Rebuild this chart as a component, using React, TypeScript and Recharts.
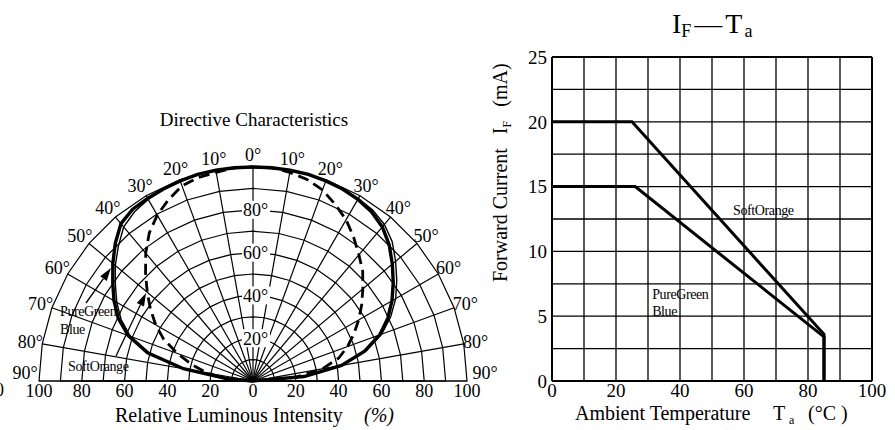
import React from 'react';
import {
  RadarChart, Radar, PolarGrid, PolarAngleAxis, PolarRadiusAxis,
  LineChart, Line, XAxis, YAxis, CartesianGrid, ReferenceLine, ReferenceDot,
} from 'recharts';

const FONT = '"Liberation Serif", "Times New Roman", serif';

// ---------- Directive characteristics (angle in degrees, negative = left side) ----------
const polarAngles = [-90, -85, -80, -75, -70, -65, -60, -55, -50, -45, -40, -35, -30, -25, -20, -15, -10, -5, 0,
  5, 10, 15, 20, 25, 30, 35, 40, 45, 50, 55, 60, 65, 70, 75, 80, 85, 90];
const pureGreen = [0, 12, 33, 51, 62, 69.5, 75, 80, 85.5, 91, 96, 98, 98.5, 99, 99.5, 100, 100, 100, 100,
  100, 100, 100, 99.5, 99, 98, 96.5, 94, 90, 85, 80, 75, 69.5, 63, 54, 42, 24, 0];
const blue = [0, 12, 33, 50, 61, 68, 73.5, 78.5, 84, 89, 94, 96.5, 98, 99, 99.5, 100, 100, 100, 100,
  100, 100, 100, 99.5, 99, 98.5, 97.5, 95.5, 92, 87, 82, 77, 71, 64, 55, 42, 24, 0];
const softOrange = [0, 13, 22, 29.5, 37.5, 46, 52.5, 58.5, 64.5, 71, 78, 84.5, 89.5, 93.5, 97, 98.5, 99, 100, 100,
  100, 99, 97.5, 95, 91, 87, 82, 77, 72.5, 67, 62, 57, 52, 47, 41.5, 33, 20, 0];
const angleTicks = [-90, -80, -70, -60, -50, -40, -30, -20, -10, 0, 10, 20, 30, 40, 50, 60, 70, 80, 90];
const fineAngleTicks = [-90, -85, -80, -75, -70, -65, -60, -55, -50, -45, -40, -35, -30, -25, -20, -15, -10, -5, 0,
  5, 10, 15, 20, 25, 30, 35, 40, 45, 50, 55, 60, 65, 70, 75, 80, 85, 90];
const radiusGridTicks = [10, 20, 30, 40, 50, 60, 70, 80, 90, 100];
const innerRadiusTicks = [10, 20];
const radiusLabelTicks = [20, 40, 60, 80];
const baselineTicks = [-100, -80, -60, -40, -20, 0, 20, 40, 60, 80, 100];

const polarData = polarAngles.map((angle, i) => ({
  angle,
  pureGreen: pureGreen[i],
  blue: blue[i],
  softOrange: softOrange[i],
}));
const baselineData = baselineTicks.map((v) => ({ v }));

// ---------- IF - Ta ----------
const tempSoftOrange = [0, 25, 85, 85];
const currentSoftOrange = [20, 20, 3.6, 0];
const tempPureGreen = [0, 26, 85, 85];
const currentPureGreen = [15, 15, 3.4, 0];
const tempTicks = [0, 10, 20, 30, 40, 50, 60, 70, 80, 90, 100];
const currentTicks = [0, 2.5, 5, 7.5, 10, 12.5, 15, 17.5, 20, 22.5, 25];

const softOrangeData = tempSoftOrange.map((t, i) => ({ t, i: currentSoftOrange[i] }));
const pureGreenData = tempPureGreen.map((t, i) => ({ t, i: currentPureGreen[i] }));

const AngleTick = (props: any) => {
  const { x, y, payload } = props;
  const isEdge = Math.abs(payload.value) === 90;
  const lift = isEdge ? -8 : 0;
  const shift = isEdge ? (payload.value > 0 ? 6 : -2) : 0;
  return (
    <text x={x + shift} y={y + lift} dy="0.36em" textAnchor="middle" fontSize={18} fontFamily={FONT} fill="#000">
      {`${Math.abs(payload.value)}°`}
    </text>
  );
};

const RadiusTick = (props: any) => {
  const { x, y, payload } = props;
  if (!radiusLabelTicks.includes(payload.value)) return <g />;
  return (
    <g>
      <rect x={x - 11} y={y - 9} width={28} height={18} fill="#fff" />
      <text x={x - 10} y={y} dy="0.36em" textAnchor="start" fontSize={18} fontFamily={FONT} fill="#000">
        {`${payload.value}°`}
      </text>
    </g>
  );
};

const Arrow = ({ x1, y1, x2, y2 }: { x1: number; y1: number; x2: number; y2: number }) => {
  const a = Math.atan2(y2 - y1, x2 - x1);
  const L = 13;
  const W = 4;
  const bx = x2 - L * Math.cos(a);
  const by = y2 - L * Math.sin(a);
  const pts = `${x2},${y2} ${bx + W * Math.sin(a)},${by - W * Math.cos(a)} ${bx - W * Math.sin(a)},${by + W * Math.cos(a)}`;
  return (
    <g>
      <line x1={x1} y1={y1} x2={bx} y2={by} stroke="#000" strokeWidth={1.3} />
      <polygon points={pts} fill="#000" />
    </g>
  );
};

export default function App() {
  return (
    <div style={{ position: 'absolute', left: 0, top: 0, width: 895, height: 430, background: '#fff', overflow: 'hidden', fontFamily: FONT }}>
      {/* inner dense radial lines */}
      <div style={{ position: 'absolute', left: 0, top: 0 }}>
        <RadarChart width={500} height={430} data={polarData} cx={253} cy={381} innerRadius={0} outerRadius={42.8}
          startAngle={180} endAngle={0} margin={{ top: 0, right: 0, bottom: 0, left: 0 }}>
          <PolarGrid gridType="polygon" stroke="#000" strokeWidth={1} />
          <PolarAngleAxis dataKey="angle" type="number" domain={[-90, 90]} ticks={fineAngleTicks} tick={false} tickLine={false} axisLine={false} />
          <PolarRadiusAxis domain={[0, 20]} ticks={innerRadiusTicks} tick={false} axisLine={false} tickLine={false} />
        </RadarChart>
      </div>
      {/* baseline intensity scale */}
      <div style={{ position: 'absolute', left: 0, top: 0 }}>
        <LineChart width={500} height={430} data={baselineData} margin={{ top: 0, right: 33, bottom: 0, left: 39 }}>
          <XAxis type="number" dataKey="v" domain={[-100, 100]} ticks={baselineTicks} interval={0} height={49}
            tickFormatter={(v: number) => String(Math.abs(v))}
            axisLine={false} tickLine={false} tickSize={2} tickMargin={1}
            tick={{ fill: '#000', fontSize: 18, fontFamily: FONT }} />
          <YAxis hide domain={[0, 100]} />
        </LineChart>
      </div>
      {/* main polar plot */}
      <div style={{ position: 'absolute', left: 0, top: 0 }}>
        <RadarChart width={500} height={430} data={polarData} cx={253} cy={381} innerRadius={0} outerRadius={214}
          startAngle={180} endAngle={0} margin={{ top: 0, right: 0, bottom: 0, left: 0 }}>
          <PolarGrid gridType="polygon" stroke="#000" strokeWidth={1.2} />
          <PolarAngleAxis dataKey="angle" type="number" domain={[-90, 90]} ticks={angleTicks} tickSize={12}
            tickLine={false} axisLine={false} tick={AngleTick} />
          <PolarRadiusAxis angle={90} domain={[0, 100]} ticks={radiusGridTicks} axisLine={false} tickLine={false} tick={RadiusTick} />
          <Radar dataKey="softOrange" stroke="#000" strokeWidth={2.8} strokeDasharray="11 6" fill="none" fillOpacity={0} dot={false} isAnimationActive={false} />
          <Radar dataKey="blue" stroke="#000" strokeWidth={1.4} fill="none" fillOpacity={0} dot={false} isAnimationActive={false} />
          <Radar dataKey="pureGreen" stroke="#000" strokeWidth={3.4} fill="none" fillOpacity={0} dot={false} isAnimationActive={false} />
        </RadarChart>
      </div>
      {/* IF - Ta */}
      <div style={{ position: 'absolute', left: 480, top: 0 }}>
        <LineChart width={415} height={430} margin={{ top: 57, right: 23, bottom: 0, left: 0 }}>
          <CartesianGrid stroke="#000" strokeWidth={1.3} />
          <XAxis type="number" dataKey="t" domain={[0, 100]} ticks={tempTicks} interval={0} height={49}
            tickFormatter={(v: number) => (v % 20 === 0 ? String(v) : '')}
            axisLine={false} tickLine={false} tickSize={2} tickMargin={1}
            tick={{ fill: '#000', fontSize: 19, fontFamily: FONT }} />
          <YAxis type="number" domain={[0, 25]} ticks={currentTicks} interval={0} width={72}
            tickFormatter={(v: number) => (v % 5 === 0 ? String(v) : '')}
            axisLine={false} tickLine={false} tickSize={3} tickMargin={2}
            tick={{ fill: '#000', fontSize: 19, fontFamily: FONT }} />
          <ReferenceLine x={0} stroke="#000" strokeWidth={2} />
          <ReferenceLine x={100} stroke="#000" strokeWidth={2} />
          <ReferenceLine y={0} stroke="#000" strokeWidth={2} />
          <ReferenceLine y={25} stroke="#000" strokeWidth={2} />
          <Line data={softOrangeData} dataKey="i" type="linear" stroke="#000" strokeWidth={3} dot={false} isAnimationActive={false} />
          <Line data={pureGreenData} dataKey="i" type="linear" stroke="#000" strokeWidth={3} dot={false} isAnimationActive={false} />
          <ReferenceDot x={56.6} y={13.2} r={1} shape={(p: any) => (
            <text x={p.cx} y={p.cy} dy="0.36em" fontSize={14} fontFamily={FONT} fill="#000" letterSpacing={-0.4}>SoftOrange</text>
          )} />
          <ReferenceDot x={31.3} y={6.7} r={1} shape={(p: any) => (
            <text x={p.cx} y={p.cy} dy="0.36em" fontSize={14} fontFamily={FONT} fill="#000" letterSpacing={-0.4}>
              PureGreen
              <tspan x={p.cx} dy={17}>Blue</tspan>
            </text>
          )} />
        </LineChart>
      </div>
      {/* titles and annotations */}
      <svg width={895} height={430} style={{ position: 'absolute', left: 0, top: 0, pointerEvents: 'none' }}>
        <text x={254} y={126} textAnchor="middle" fontSize={19} fontFamily={FONT} fill="#000">Directive Characteristics</text>
        <text x={115} y={422} fontSize={20} fontFamily={FONT} fill="#000">Relative Luminous Intensity</text>
        <text x={364} y={422} fontSize={20} fontFamily={FONT} fill="#000" fontStyle="italic">(%)</text>
        <text x={-5} y={396} fontSize={18} fontFamily={FONT} fill="#000">0</text>
        <text x={60} y={316} fontSize={14} fontFamily={FONT} fill="#000" letterSpacing={-0.4}>PureGreen</text>
        <text x={60} y={334} fontSize={14} fontFamily={FONT} fill="#000" letterSpacing={-0.4}>Blue</text>
        <text x={68} y={371} fontSize={14} fontFamily={FONT} fill="#000" letterSpacing={-0.4}>SoftOrange</text>
        <Arrow x1={86} y1={303} x2={111} y2={268} />
        <Arrow x1={116} y1={356} x2={146} y2={293} />
        <text x={672} y={33} fontSize={28} fontFamily={FONT} fill="#000">
          I<tspan fontSize={18} dy={4}>F</tspan><tspan dy={-4} dx={3}>—</tspan><tspan dx={3}>T</tspan><tspan fontSize={18} dy={4} dx={2}>a</tspan>
        </text>
        <text transform="translate(507,282) rotate(-90)" textAnchor="start" fontSize={20} fontFamily={FONT} fill="#000">
          Forward Current<tspan dx={14}>I</tspan><tspan fontSize={12} dy={4}>F</tspan><tspan dy={-4} dx={14}>(mA)</tspan>
        </text>
        <text x={575} y={420} fontSize={20} fontFamily={FONT} fill="#000">Ambient Temperature</text>
        <text x={773} y={420} fontSize={20} fontFamily={FONT} fill="#000">T</text>
        <text x={789} y={424} fontSize={12} fontFamily={FONT} fill="#000">a</text>
        <text x={808} y={420} fontSize={20} fontFamily={FONT} fill="#000">(°C )</text>
      </svg>
    </div>
  );
}
